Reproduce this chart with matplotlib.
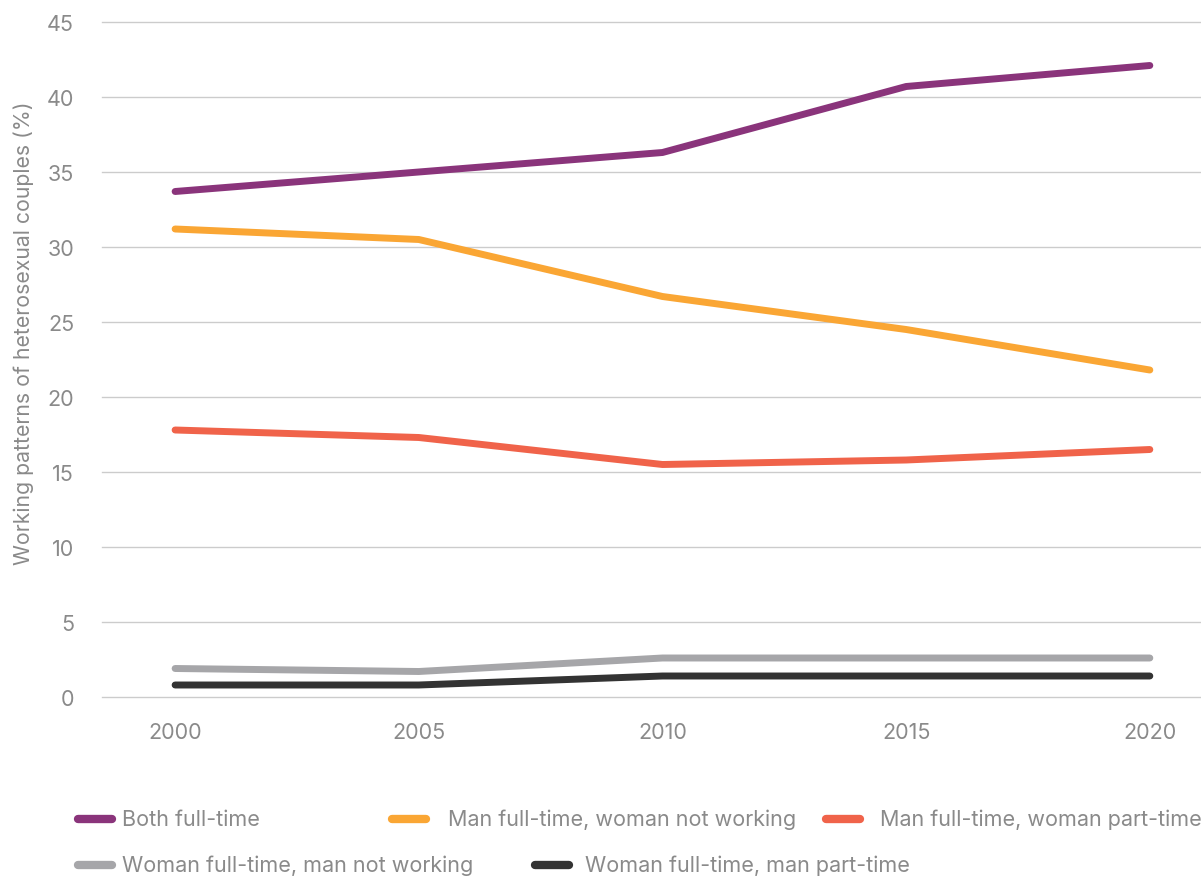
import matplotlib
matplotlib.use("Agg")
import matplotlib.pyplot as plt
from matplotlib.lines import Line2D

years = [2000, 2005, 2010, 2015, 2020]
both_full_time = [33.7, 35.0, 36.3, 40.7, 42.1]
man_ft_woman_not = [31.2, 30.5, 26.7, 24.5, 21.8]
man_ft_woman_pt = [17.8, 17.3, 15.5, 15.8, 16.5]
woman_ft_man_not = [1.9, 1.7, 2.6, 2.6, 2.6]
woman_ft_man_pt = [0.8, 0.8, 1.4, 1.4, 1.4]

labels = ["Both full-time", "Man full-time, woman not working",
          "Man full-time, woman part-time", "Woman full-time, man not working",
          "Woman full-time, man part-time"]
colors = ["#8A347B", "#FAA634", "#F0634A", "#A6A6A9", "#333333"]
series = [both_full_time, man_ft_woman_not, man_ft_woman_pt, woman_ft_man_not, woman_ft_man_pt]

plt.rcParams['font.family'] = ['Inter', 'DejaVu Sans']
txt_color = "#8a8a8a"

fig = plt.figure(figsize=(12.01, 8.79), dpi=100)
ax = fig.add_axes([102/1201, 1 - 698/879, 1 - 102/1201, (698-23)/879])

for vals, c in zip(series, colors):
    ax.plot(years, vals, color=c, lw=5, solid_capstyle='round', solid_joinstyle='round', zorder=3)

ax.set_ylim(0, 45)
ax.set_xlim(1998.5, 2021.05)
ax.set_yticks(range(0, 46, 5))
ax.set_xticks(years)
ax.grid(axis='y', color='#cccccc', lw=1)
ax.set_axisbelow(True)
for s in ax.spines.values():
    s.set_visible(False)
ax.tick_params(axis='both', length=0, labelsize=15.5, labelcolor=txt_color)
ax.tick_params(axis='y', pad=20)
ax.tick_params(axis='x', pad=18)
for gl in ax.get_ygridlines():
    gl.set_clip_on(False)
ax.set_ylabel("Working patterns of heterosexual couples (%)", fontsize=15.3, color=txt_color)
ax.yaxis.set_label_coords(-68/1099, (698-333)/675)

# legend (manual flow layout)
W, H = 1201, 879
entries = [(0, 78, 122, 820), (1, 392, 448, 820), (2, 826, 880, 820),
           (3, 78, 122, 866), (4, 535, 585, 866)]
for i, hx, tx, y in entries:
    fig.add_artist(Line2D([hx/W, (hx+34)/W], [1 - y/H, 1 - y/H], color=colors[i], lw=6,
                          solid_capstyle='round', transform=fig.transFigure))
    fig.text(tx/W, 1 - y/H, labels[i], fontsize=15.5, color=txt_color, va='center', ha='left')

fig.savefig("out.png", dpi=100)
